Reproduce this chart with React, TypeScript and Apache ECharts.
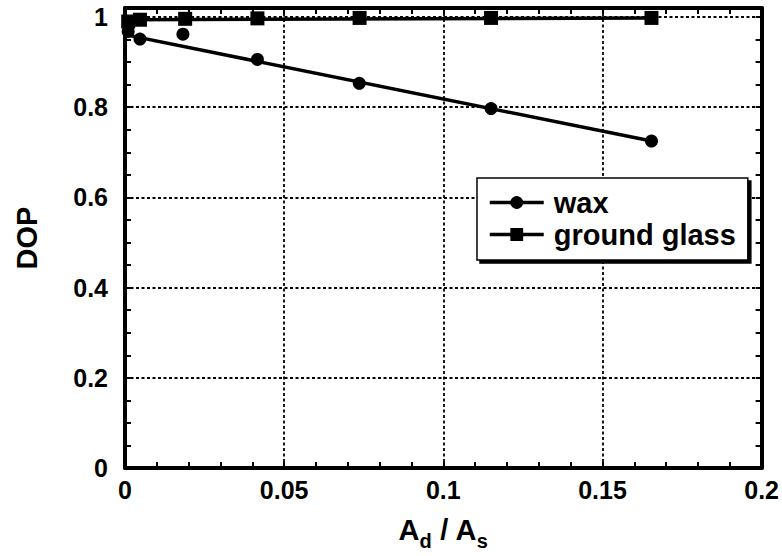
import React, { useEffect, useRef } from 'react';
import * as echarts from 'echarts';

// measured data points
const waxX = [0.001, 0.0047, 0.0182, 0.0416, 0.0736, 0.115, 0.1654];
const waxY = [0.968, 0.951, 0.962, 0.906, 0.853, 0.797, 0.725];
const glassX = [0.001, 0.0047, 0.0189, 0.0416, 0.0737, 0.115, 0.1654];
const glassY = [0.99, 0.994, 0.996, 0.997, 0.998, 0.998, 0.998];
// fitted lines (end points)
const waxFitX = [0, 0.1654];
const waxFitY = [0.961, 0.725];
const glassFitX = [0, 0.1654];
const glassFitY = [0.994, 0.998];
// ticks
const xTickValues = [0, 0.05, 0.1, 0.15, 0.2];
const xTickLabels = ['0', '0.05', '0.1', '0.15', '0.2'];
const yTickValues = [0, 0.2, 0.4, 0.6, 0.8, 1];
const yTickLabels = ['0', '0.2', '0.4', '0.6', '0.8', '1'];
const seriesNames = ['wax', 'ground glass'];

const FONT = 'Liberation Sans, Arial, Helvetica, sans-serif';

const pick = (vals: number[], labels: string[]) => (v: number) => {
  const i = vals.findIndex((t) => Math.abs(t - v) < 1e-9);
  return i >= 0 ? labels[i] : '';
};
const zip = (xs: number[], ys: number[]) => xs.map((x, i) => [x, ys[i]]);

export default function App() {
  const ref = useRef<HTMLDivElement>(null);
  useEffect(() => {
    if (!ref.current) return;
    const chart = echarts.init(ref.current, undefined, { renderer: 'svg' });
    const frameLine = { show: true, onZero: false, lineStyle: { color: '#000', width: 4 } };
    const tick = { show: true, inside: true, length: 6, lineStyle: { color: '#000', width: 2 } };
    const minor = { show: true, splitNumber: 5, length: 6, lineStyle: { color: '#000', width: 2 } };
    const grid = { type: [3, 2.5] as any, color: '#000', width: 1.8 };
    const labelStyle = { color: '#000', fontSize: 25, fontWeight: 'bold' as const, fontFamily: FONT };
    chart.setOption({
      animation: false,
      backgroundColor: '#fff',
      grid: { left: 125, right: 20, top: 8, bottom: 87 },
      xAxis: [
        {
          type: 'value', min: 0, max: 0.2, interval: 0.05, position: 'bottom',
          axisLine: frameLine, axisTick: tick, minorTick: minor,
          splitLine: { show: true, lineStyle: grid },
          axisLabel: { ...labelStyle, margin: 9, formatter: pick(xTickValues, xTickLabels) },
          name: '{a|A}{s|d}{a| / A}{s|s}',
          nameLocation: 'middle', nameGap: 41,
          nameTextStyle: {
            rich: {
              a: { fontSize: 29, fontWeight: 'bold', fontFamily: FONT, color: '#000' },
              s: { fontSize: 20, fontWeight: 'bold', fontFamily: FONT, color: '#000', padding: [22, 0, 0, 0] },
            },
          },
        },
        {
          type: 'value', min: 0, max: 0.2, interval: 0.05, position: 'top',
          axisLine: frameLine, axisTick: tick, minorTick: minor,
          splitLine: { show: false }, axisLabel: { show: false },
        },
      ],
      yAxis: [
        {
          type: 'value', min: 0, max: 1.02, interval: 0.2, position: 'left',
          axisLine: frameLine, axisTick: { show: false },
          splitLine: { show: true, lineStyle: grid },
          axisLabel: { ...labelStyle, margin: 17, formatter: pick(yTickValues, yTickLabels) },
          name: 'DOP', nameLocation: 'middle', nameGap: 84, nameRotate: 90,
          nameTextStyle: { fontSize: 29, fontWeight: 'bold', fontFamily: FONT, color: '#000' },
        },
        {
          type: 'value', min: 0, max: 1.02, interval: 0.05, position: 'left',
          axisLine: { show: false }, axisTick: tick,
          splitLine: { show: false }, axisLabel: { show: false },
        },
        {
          type: 'value', min: 0, max: 1.02, interval: 0.05, position: 'right',
          axisLine: frameLine, axisTick: tick,
          splitLine: { show: false }, axisLabel: { show: false },
        },
      ],
      legend: {
        data: seriesNames,
        orient: 'vertical',
        left: 477, top: 178,
        itemWidth: 54, itemHeight: 16, itemGap: 3,
        padding: [10, 12, 11, 11],
        backgroundColor: '#fff',
        borderColor: '#000', borderWidth: 1.5, borderRadius: 0,
        shadowColor: '#000', shadowBlur: 0, shadowOffsetX: 3, shadowOffsetY: 3,
        selectedMode: false,
        itemStyle: { color: '#000', opacity: 1 },
        lineStyle: { color: '#000', width: 3.5 },
        textStyle: { color: '#000', fontSize: 29, fontWeight: 'bold', fontFamily: FONT, padding: [0, 0, 0, 5] },
      },
      series: [
        {
          name: seriesNames[0], type: 'line', data: zip(waxFitX, waxFitY),
          symbol: 'circle', showSymbol: false, symbolSize: 13,
          lineStyle: { color: '#000', width: 3.5 }, itemStyle: { color: '#000' }, z: 2,
        },
        {
          name: seriesNames[1], type: 'line', data: zip(glassFitX, glassFitY),
          symbol: 'rect', showSymbol: false, symbolSize: 14,
          lineStyle: { color: '#000', width: 3.5 }, itemStyle: { color: '#000' }, z: 2,
        },
        {
          name: 'wax points', type: 'scatter', data: zip(waxX, waxY),
          symbol: 'circle', symbolSize: 13, itemStyle: { color: '#000', opacity: 1 }, z: 3,
        },
        {
          name: 'ground glass points', type: 'scatter', data: zip(glassX, glassY),
          symbol: 'rect', symbolSize: 14, itemStyle: { color: '#000', opacity: 1 }, z: 3,
        },
      ],
    });
    return () => chart.dispose();
  }, []);
  return <div ref={ref} style={{ position: 'fixed', left: 0, top: 0, width: 782, height: 556 }} />;
}
